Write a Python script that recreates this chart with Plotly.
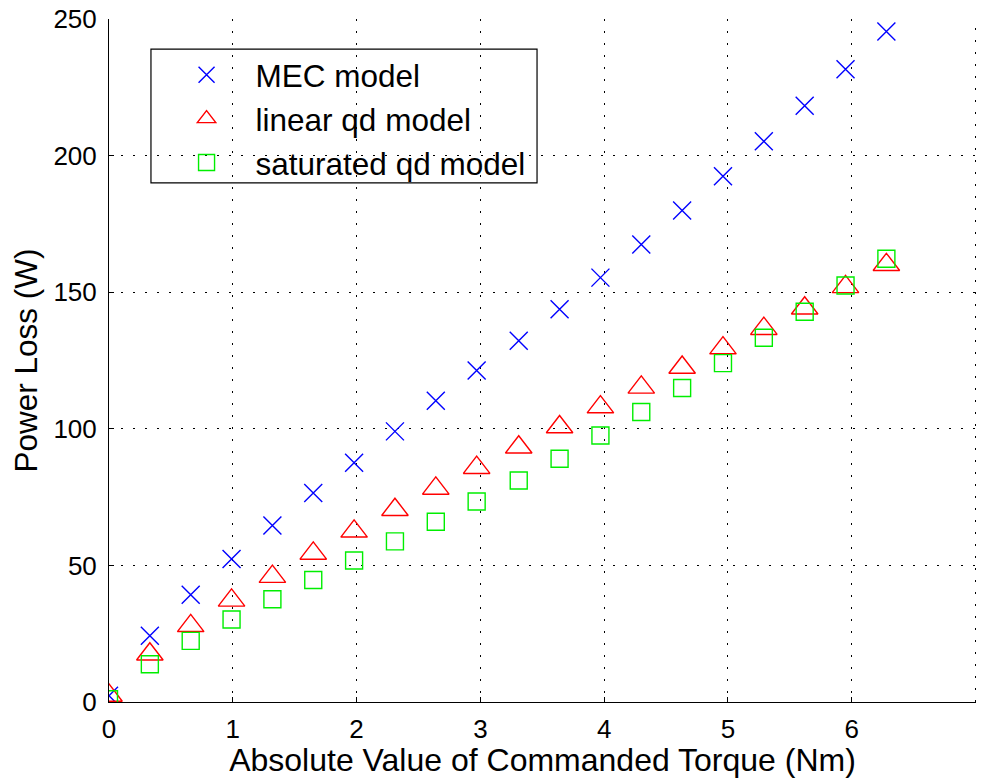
import plotly.graph_objects as go

# Commanded torque magnitude (Nm)
torque = [0, 0.33, 0.66, 0.99, 1.32, 1.65, 1.98, 2.31, 2.64, 2.97,
          3.31, 3.64, 3.97, 4.30, 4.63, 4.96, 5.29, 5.62, 5.95, 6.28]

# Power loss (W) predicted by each model
mec_loss = [2.3, 24.3, 39.3, 52.4, 64.6, 76.5, 87.6, 99.1, 110.3, 121.4,
            132.3, 143.8, 155.4, 167.5, 180.0, 192.5, 205.3, 218.3, 231.7, 245.5]
linear_qd_loss = [2.4, 17.5, 27.9, 37.2, 45.9, 54.4, 62.5, 70.4, 78.2, 85.8,
                  93.3, 100.7, 108.0, 115.2, 122.5, 129.6, 136.7, 144.2, 152.0, 160.1]
saturated_qd_loss = [1.0, 13.8, 22.4, 30.2, 37.6, 44.7, 51.8, 58.8, 66.0, 73.4,
                     81.1, 89.1, 97.6, 106.2, 115.0, 124.1, 133.4, 142.9, 152.5, 162.3]

series_names = ["MEC model", "linear qd model", "saturated qd model"]

x_ticks = [0, 1, 2, 3, 4, 5, 6, 7]
y_ticks = [0, 50, 100, 150, 200, 250]

FONT = "Liberation Sans, Arial, Helvetica, sans-serif"
GRID_DASH = "2px,10px"

fig = go.Figure()
fig.add_trace(go.Scatter(
    x=torque, y=mec_loss, mode="markers", name=series_names[0],
    marker=dict(symbol="x-thin-open", size=18, color="#0000ff",
                line=dict(color="#0000ff", width=1.4)),
))
fig.add_trace(go.Scatter(
    x=torque, y=linear_qd_loss, mode="markers", name=series_names[1],
    marker=dict(symbol="triangle-up-open", size=23, color="#ff0000",
                line=dict(color="#ff0000", width=1.4)),
))
fig.add_trace(go.Scatter(
    x=torque, y=saturated_qd_loss, mode="markers", name=series_names[2],
    marker=dict(symbol="square-open", size=17, color="#00ee00",
                line=dict(color="#00ee00", width=1.4)),
))

axis_common = dict(
    showgrid=True, gridcolor="#000000", gridwidth=1, griddash=GRID_DASH,
    zeroline=False, showline=True, linecolor="#000000", linewidth=1,
    ticks="inside", ticklen=5, tickwidth=1, tickcolor="#000000",
    tickfont=dict(family=FONT, size=26, color="#000000"),
    mirror=False,
)

fig.update_xaxes(
    range=[0, 7.004], tickvals=x_ticks, ticktext=[str(v) for v in x_ticks],
    title=dict(text="Absolute Value of Commanded Torque (Nm)",
               font=dict(family=FONT, size=32, color="#000000"), standoff=3),
    ticklabelstandoff=4,
    **axis_common,
)
fig.update_yaxes(
    range=[0, 250.1], tickvals=y_ticks, ticktext=[str(v) for v in y_ticks],
    title=dict(text="Power Loss (W)",
               font=dict(family=FONT, size=31.5, color="#000000"), standoff=6),
    ticklabelstandoff=6,
    **axis_common,
)

# Grid line at the right edge of the axes (x = 7)
fig.add_shape(type="line", xref="x", yref="paper",
              x0=x_ticks[-1], x1=x_ticks[-1], y0=0, y1=1,
              line=dict(color="#000000", width=1, dash=GRID_DASH),
              layer="below")

# Legend frame
fig.add_shape(type="rect", xref="paper", yref="paper",
              x0=0.0484, x1=0.4937, y0=0.760, y1=0.956,
              line=dict(color="#000000", width=1.2), fillcolor="rgba(0,0,0,0)",
              layer="above")

fig.update_layout(
    width=981, height=778,
    margin=dict(l=109, r=5, t=19, b=76, autoexpand=False),
    paper_bgcolor="#ffffff", plot_bgcolor="#ffffff",
    font=dict(family=FONT, size=26, color="#000000"),
    showlegend=True,
    legend=dict(
        x=0.056, y=0.958, xanchor="left", yanchor="top",
        bgcolor="rgba(0,0,0,0)", borderwidth=0,
        font=dict(family=FONT, size=31.5, color="#000000"),
        itemwidth=88, tracegroupgap=0,
    ),
)

fig.write_html("out.html")
